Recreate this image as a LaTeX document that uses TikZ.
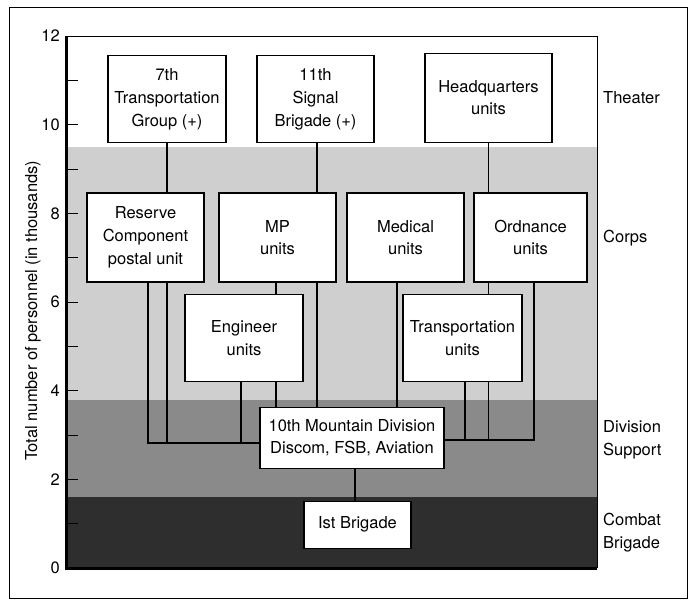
\documentclass[tikz,border=0pt]{standalone}
\usepackage{fontspec}
\setmainfont{TeX Gyre Heros}
\usetikzlibrary{backgrounds}

\newcommand{\chartfont}{\fontsize{16.5}{22.8}\selectfont}

\tikzset{
  unitbox/.style={draw, fill=white, line width=1.1pt, align=center,
    inner sep=0pt, font=\chartfont},
  link/.style={line width=1.6pt},
  bandlabel/.style={anchor=west, align=left, inner sep=0pt, font=\chartfont},
}

\begin{document}
\begin{tikzpicture}[x=1pt, y=44.33pt]
    \useasboundingbox (-67,12.813) rectangle (622,-0.722);

    % Theater
    \node[unitbox, minimum width=118pt, minimum height=87pt] (trans7) at (100,10.57) {7th\\Transportation\\Group (+)};
    \node[unitbox, minimum width=117pt, minimum height=87pt] (signal11) at (248.5,10.57) {11th\\Signal\\Brigade (+)};
    \node[unitbox, minimum width=127pt, minimum height=89pt] (hq) at (421.5,10.61) {Headquarters\\units};

    % Corps
    \node[unitbox, minimum width=117pt, minimum height=89pt] (postal) at (78.5,7.455) {Reserve\\Component\\postal unit};
    \node[unitbox, minimum width=117pt, minimum height=89pt] (mp) at (210.5,7.455) {MP\\units};
    \node[unitbox, minimum width=117pt, minimum height=89pt] (medical) at (338.5,7.455) {Medical\\units};
    \node[unitbox, minimum width=113pt, minimum height=89pt] (ordnance) at (463.5,7.455) {Ordnance\\units};
    \node[unitbox, minimum width=118pt, minimum height=87pt] (engineer) at (177,5.18) {Engineer\\units};
    \node[unitbox, minimum width=119pt, minimum height=87pt] (transunits) at (395.5,5.18) {Transportation\\units};

    % Division and brigade
    \node[unitbox, minimum width=184pt, minimum height=61pt] (division) at (285,2.94) {10th Mountain Division\\Discom, FSB, Aviation};
    \node[unitbox, minimum width=107pt, minimum height=47pt] (brigade) at (290.5,0.98) {Ist Brigade};

    % Band names
    \node[bandlabel] (theater) at (536,10.6) {Theater};
    \node[bandlabel] (corps) at (536,7.44) {Corps};
    \node[bandlabel] (divsupport) at (536,2.89) {Division\\Support};
    \node[bandlabel] (combat) at (536,0.79) {Combat\\Brigade};

    % Axis labels
    \foreach \y in {0,2,...,12} {
        \node[anchor=east, inner sep=0pt, font=\chartfont] (tick\y) at (-7,\y) {\y};
    }
    \node[rotate=90, font=\chartfont] (ylabel) at (-34,5.8) {Total number of personnel (in thousands)};

    \coordinate (busL) at (81,2.82);
    \coordinate (busR) at (467,2.89);

    \begin{scope}[on background layer]
        % Bands
        \fill[black!19] (0,3.8) rectangle (530,9.5);
        \fill[black!46] (0,1.6) rectangle (530,3.8);
        \fill[black!82] (0,0) rectangle (530,1.6);
        \draw[line width=0.8pt] (0,12) -- (530,12) -- (530,0);
        \draw[line width=0.8pt] (-58,12.655) rectangle (620,-0.677);
        \foreach \y in {1,...,12} {
            \draw[line width=1pt] (0,\y) -- ++(11,0);
        }
        \draw[line width=3pt] (0,12) -- (0,0) -- (530,0);

        % Left bus
        \draw[link] (postal.south -| busL) |- (division.west |- busL);
        \draw[link] (trans7.south) -- (trans7.south |- busL);
        \draw[link] ([xshift=-3pt]engineer.south) -- ([xshift=-3pt]engineer.south |- busL);
        % Straight into the division
        \draw[link] ([xshift=-1.5pt]mp.south) -- ([xshift=-1.5pt]mp.south |- division.north);
        \draw[link] ([xshift=1.5pt]signal11.south) -- ([xshift=1.5pt]signal11.south |- division.north);
        \draw[link] ([xshift=-8.5pt]medical.south) -- ([xshift=-8.5pt]medical.south |- division.north);
        % Right bus
        \draw[link] (ordnance.south -| busR) |- (division.east |- busR);
        \draw[link] ([xshift=2.5pt]transunits.south) -- ([xshift=2.5pt]transunits.south |- busR);
        \draw[link] (hq.south) -- (hq.south |- busR);
        % Brigade
        \draw[link] (division.south -| 288,0) -- (brigade.north -| 288,0);
    \end{scope}
\end{tikzpicture}
\end{document}
